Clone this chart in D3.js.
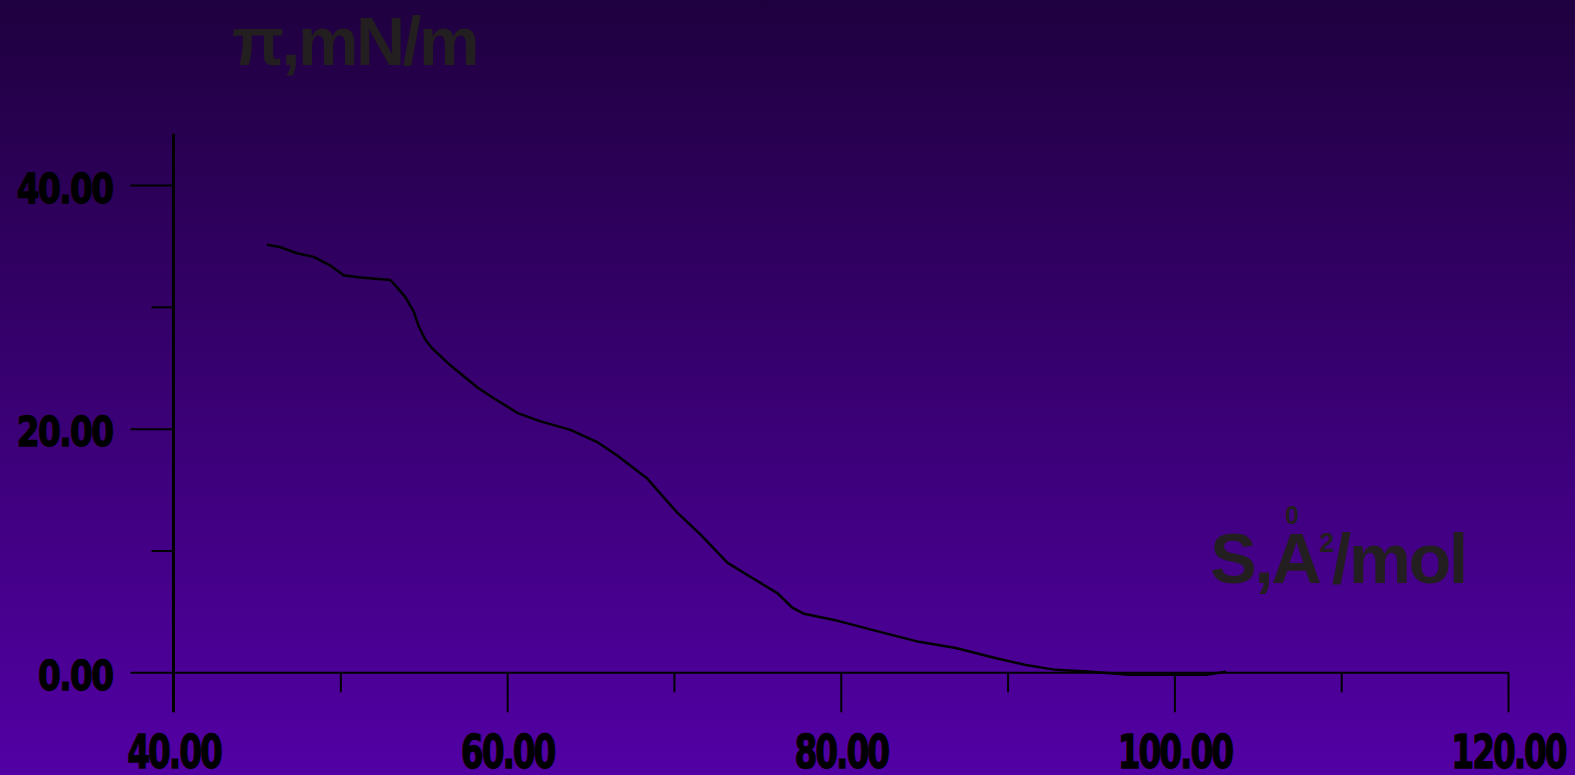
<!DOCTYPE html>
<html>
<head>
<meta charset="utf-8">
<script src="https://cdn.jsdelivr.net/npm/d3@7"></script>
<style>
    body { margin: 0; overflow: hidden; }
</style>
</head>
<body>
<div id="chart"></div>
<script>

// isotherm: area per molecule vs surface pressure
var area = [45.6, 46.4, 47.4, 48.4, 49.4, 50.2, 51.2, 52.1, 53.0, 53.4, 53.9, 54.4, 54.7, 55.1, 55.5,
            56.6, 58.2, 59.2, 60.6, 62.0, 63.8, 65.4, 66.6, 68.4, 70.2, 71.6, 73.2, 74.5, 76.2, 77.1,
            77.8, 79.6, 82.4, 84.7, 86.9, 89.2, 91.1, 92.9, 95.0, 97.3, 99.6, 101.9, 103.1];
var pressure = [35.1, 34.9, 34.4, 34.1, 33.4, 32.6, 32.4, 32.3, 32.2, 31.6, 30.8, 29.6, 28.4, 27.3, 26.6,
                25.2, 23.4, 22.5, 21.3, 20.6, 19.9, 18.9, 17.8, 15.9, 13.1, 11.3, 9.0, 7.9, 6.5, 5.3,
                4.8, 4.3, 3.3, 2.5, 2.0, 1.2, 0.6, 0.2, 0.05, -0.2, -0.2, -0.2, 0.05];

var xTicks = [40, 60, 80, 100, 120];
var xMinor = [50, 70, 90, 110];
var yTicks = [0, 20, 40];
var yMinor = [10, 30];
var yTitle = 'π,mN/m';
var xTitle = ['S,A', '2', '/mol'];

function isotherm(div) {

    var width = 1575;
    var height = 775;
    var ink = '#000';
    var labelInk = '#231e1f';

    var svg = d3.select('#' + div).append('svg')
        .attr('width', width)
        .attr('height', height);

    var grad = svg.append('defs').append('linearGradient')
        .attr('id', 'bg')
        .attr('x1', 0).attr('y1', 0)
        .attr('x2', 0).attr('y2', 1);
    grad.append('stop').attr('offset', '0%').attr('stop-color', '#1f003f');
    grad.append('stop').attr('offset', '100%').attr('stop-color', '#5200a4');

    svg.append('rect')
        .attr('width', width)
        .attr('height', height)
        .attr('fill', 'url(#bg)');

    var x = d3.scaleLinear()
        .domain([40, 120])
        .range([173.5, 1508]);

    var y = d3.scaleLinear()
        .domain([0, 40])
        .range([672.3, 185]);

    //minor ticks first, no labels
    svg.append('g')
        .attr('transform', 'translate(0,' + y(0) + ')')
        .call(d3.axisBottom(x).tickValues(xMinor).tickSize(20).tickSizeOuter(0).tickFormat(''))
        .call(function(g) { g.select('.domain').remove(); });

    svg.append('g')
        .attr('transform', 'translate(' + x(40) + ',0)')
        .call(d3.axisLeft(y).tickValues(yMinor).tickSize(22).tickSizeOuter(0).tickFormat(''))
        .call(function(g) { g.select('.domain').remove(); });

    var xaxis = svg.append('g')
        .attr('class', 'xaxis')
        .attr('transform', 'translate(0,' + y(0) + ')')
        .call(d3.axisBottom(x).tickValues(xTicks).tickSize(40).tickSizeOuter(0).tickFormat(d3.format('.2f')));

    xaxis.selectAll('.tick text')
        .attr('y', 0)
        .attr('dy', 0)
        .attr('transform', 'translate(0,95.5) scale(0.7,1)')
        .attr('font-family', 'DejaVu Sans')
        .attr('font-weight', 'bold')
        .attr('font-size', '47px')
        .attr('letter-spacing', '-3px')
        .attr('stroke', ink)
        .attr('stroke-width', 1.3)
        .attr('fill', ink);

    var yaxis = svg.append('g')
        .attr('class', 'yaxis')
        .attr('transform', 'translate(' + x(40) + ',0)')
        .call(d3.axisLeft(y).tickValues(yTicks).tickSize(43).tickSizeOuter(0).tickFormat(d3.format('.2f')));

    yaxis.select('.domain').remove();

    yaxis.selectAll('.tick text')
        .attr('x', 0)
        .attr('dy', 0)
        .attr('transform', 'translate(-61,17) scale(0.8,1)')
        .attr('font-family', 'DejaVu Sans')
        .attr('font-weight', 'bold')
        .attr('font-size', '41px')
        .attr('letter-spacing', '-2px')
        .attr('stroke', ink)
        .attr('stroke-width', 1.3)
        .attr('fill', ink);

    svg.selectAll('.tick line, .domain')
        .attr('stroke', ink)
        .attr('stroke-width', 2);

    // the vertical axis runs past 40 and down through the x tick zone
    svg.append('line')
        .attr('x1', x(40)).attr('x2', x(40))
        .attr('y1', y(44.2)).attr('y2', y(0) + 40)
        .attr('stroke', ink)
        .attr('stroke-width', 3);

    var pts = area.map(function(a, i) { return [a, pressure[i]]; });

    var line = d3.line()
        .x(function(d) { return x(d[0]); })
        .y(function(d) { return y(d[1]); });

    svg.append('path')
        .datum(pts)
        .attr('d', line)
        .attr('fill', 'none')
        .attr('stroke', ink)
        .attr('stroke-width', 2.5)
        .attr('stroke-linejoin', 'round');

    //axis titles
    svg.append('text')
        .attr('x', 232)
        .attr('y', 65)
        .attr('font-family', 'Liberation Sans')
        .attr('font-weight', 'bold')
        .attr('font-size', '68px')
        .attr('letter-spacing', '-2.5px')
        .attr('fill', labelInk)
        .text(yTitle);

    var xt = svg.append('text')
        .attr('x', 1210)
        .attr('y', 583)
        .attr('font-family', 'Liberation Sans')
        .attr('font-weight', 'bold')
        .attr('font-size', '70px')
        .attr('letter-spacing', '-2.5px')
        .attr('fill', labelInk);
    xt.append('tspan').text(xTitle[0]);
    xt.append('tspan')
        .attr('dy', -31)
        .attr('font-size', '27px')
        .text(xTitle[1]);
    xt.append('tspan')
        .attr('dy', 31)
        .text(xTitle[2]);

    // ring over the A drawn as a small 0
    svg.append('text')
        .attr('x', 1292)
        .attr('y', 524)
        .attr('text-anchor', 'middle')
        .attr('font-family', 'Liberation Sans')
        .attr('font-weight', 'bold')
        .attr('font-size', '25px')
        .attr('fill', labelInk)
        .text('0');

} //end isotherm

isotherm('chart');
</script>
</body>
</html>
